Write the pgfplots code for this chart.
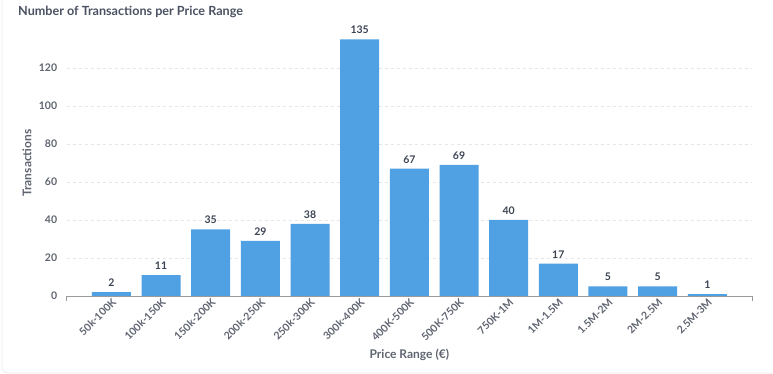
\documentclass[border=0pt]{standalone}
\usepackage{pgfplots}
\pgfplotsset{compat=1.18}
\usepackage{fontspec}
\setmainfont{Lato}
\definecolor{barblue}{HTML}{4FA1E3}
\definecolor{titlegray}{HTML}{4A5161}
\definecolor{tickgray}{HTML}{5F6470}
\definecolor{labeldark}{HTML}{3C4352}
\definecolor{gridgray}{HTML}{E6E6E6}
\definecolor{axisgray}{HTML}{9A9A9A}
\begin{document}
\begin{tikzpicture}[x=1pt,y=1pt]
\useasboundingbox (0,0) rectangle (773,374);
\draw[rounded corners=6pt, draw=black!8, line width=0.8pt] (2,1) rectangle (790,390);
\node[anchor=base west, font=\bfseries\fontsize{12.6}{15}\selectfont, text=titlegray, inner sep=0pt] at (18,358) {Number of Transactions per Price Range};
\begin{axis}[
  at={(66.7pt,78pt)}, anchor=south west,
  scale only axis, width=685.3pt, height=266pt,
  xmin=-0.9, xmax=12.9, ymin=0, ymax=140,
  ytick={0,20,...,120},
  xtick={0,...,12},
  xticklabels={50k-100K,100k-150K,150k-200K,200k-250K,250k-300K,300k-400K,400K-500K,500K-750K,750K-1M,1M-1.5M,1.5M-2M,2M-2.5M,2.5M-3M},
  x tick label style={rotate=45, anchor=north east, font=\bfseries\fontsize{10.5}{12}\selectfont, text=tickgray, inner sep=1pt},
  y tick label style={font=\bfseries\fontsize{10.5}{12}\selectfont, text=tickgray},
  /pgf/number format/assume math mode=true,
  axis x line*=bottom, axis y line*=left,
  x axis line style={axisgray, line width=0.8pt, -},
  y axis line style={draw=none},
  ymajorgrids, grid style={gridgray, dashed, line width=0.7pt},
  major tick length=0pt,
  xlabel={Price Range (€)}, ylabel={Transactions},
  xlabel style={font=\bfseries\fontsize{12}{14}\selectfont, text=tickgray, yshift=-2pt},
  every axis y label/.style={at={(-39.7pt,133pt)}, rotate=90, anchor=center, font=\bfseries\fontsize{12}{14}\selectfont, text=tickgray},
  yticklabel style={anchor=east, xshift=-6pt},
  clip=false,
  nodes near coords,
  every node near coord/.append style={font=\bfseries\fontsize{10.5}{12}\selectfont, text=labeldark, yshift=2pt},
]
\addplot[ybar, bar width=39pt, fill=barblue, draw=none] coordinates {
(0,2) (1,11) (2,35) (3,29) (4,38) (5,135) (6,67) (7,69) (8,40) (9,17) (10,5) (11,5) (12,1)};
\draw[axisgray, line width=0.8pt] (axis cs:-0.9,0) -- ([yshift=-5pt]axis cs:-0.9,0);
\draw[axisgray, line width=0.8pt] (axis cs:12.9,0) -- ([yshift=-5pt]axis cs:12.9,0);
\end{axis}
\end{tikzpicture}
\end{document}
